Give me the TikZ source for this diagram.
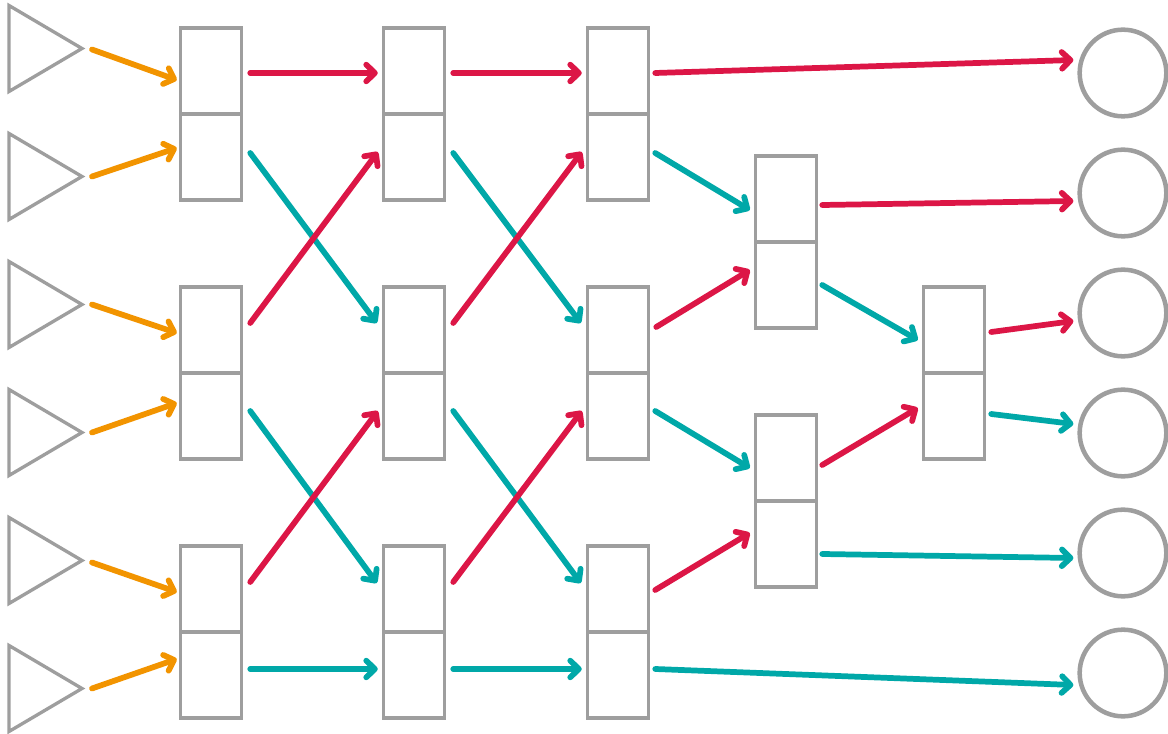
\documentclass[tikz,border=0pt]{standalone}
\usetikzlibrary{arrows.meta,calc}
\definecolor{wire}{RGB}{158,158,158}
\definecolor{feedc}{RGB}{242,148,0}
\definecolor{upc}{RGB}{220,22,70}
\definecolor{downc}{RGB}{0,168,168}
\begin{document}
\begin{tikzpicture}[x=0.75pt,y=-0.75pt,
  cell/.style={draw=wire,line width=2.6pt,minimum width=45.75pt,minimum height=64.5pt,inner sep=0pt},
  sink/.style={circle,draw=wire,line width=3.4pt,minimum size=65pt,inner sep=0pt},
  source/.style={draw=wire,line width=2.5pt,line join=miter},
  link/.style={line width=4.3pt,line cap=round,-{Straight Barb[round,length=6.5pt,width=12.5pt]}},
  feed/.style={link,feedc},
  upw/.style={link,upc},
  downw/.style={link,downc}]
\useasboundingbox (0,0) rectangle (1168,734);

% sources
\foreach \i/\y in {1/48.5,2/176.5,3/304.5,4/432.5,5/560.5,6/688.5}{
  \draw[source] (9,\y-43) -- (82,\y) -- (9,\y+43) -- cycle;
  \coordinate (t\i) at (82,\y);
}

% switching cells: column 1 to 3
\foreach \c/\x in {1/211,2/414,3/618}{
  \node[cell] (a1c\c) at (\x,71) {};
  \node[cell] (b1c\c) at (\x,157) {};
  \node[cell] (a2c\c) at (\x,330) {};
  \node[cell] (b2c\c) at (\x,416) {};
  \node[cell] (a3c\c) at (\x,589) {};
  \node[cell] (b3c\c) at (\x,675) {};
}
% column 4 and 5
\node[cell] (p1) at (786,199) {};
\node[cell] (q1) at (786,285) {};
\node[cell] (p2) at (786,458) {};
\node[cell] (q2) at (786,544) {};
\node[cell] (m1) at (954,330) {};
\node[cell] (n1) at (954,416) {};

% sinks
\foreach \i/\y in {1/73,2/193,3/313,4/433,5/553,6/673}{
  \node[sink] (o\i) at (1123,\y) {};
}

% inputs
\draw[feed] ($(t1)+(10,1)$) -- ($(a1c1.west)+(-2,9)$);
\draw[feed] ($(t2)+(10,0)$) -- ($(b1c1.west)+(-2,-9)$);
\draw[feed] ($(t3)+(10,0)$) -- ($(a2c1.west)+(-2,3)$);
\draw[feed] ($(t4)+(10,0)$) -- ($(b2c1.west)+(-2,-13)$);
\draw[feed] ($(t5)+(10,2)$) -- ($(a3c1.west)+(-2,3)$);
\draw[feed] ($(t6)+(10,0)$) -- ($(b3c1.west)+(-2,-16)$);

% butterfly stages
\foreach \s/\d in {1/2,2/3}{
  \draw[upw]   ($(a1c\s.east)+(7,2)$)  -- ($(a1c\d.west)+(-4,2)$);
  \draw[downw] ($(b1c\s.east)+(7,-4)$) -- ($(a2c\d.west)+(-5,-7)$);
  \draw[upw]   ($(a2c\s.east)+(7,-7)$) -- ($(b1c\d.west)+(-4,-5)$);
  \draw[downw] ($(b2c\s.east)+(7,-5)$) -- ($(a3c\d.west)+(-5,-6)$);
  \draw[upw]   ($(a3c\s.east)+(7,-7)$) -- ($(b2c\d.west)+(-4,-5)$);
  \draw[downw] ($(b3c\s.east)+(7,-6)$) -- ($(b3c\d.west)+(-4,-6)$);
}

% column 3 outputs
\draw[upw]   ($(a1c3.east)+(5,2)$)  -- ($(o1.west)+(-4,-13)$);
\draw[downw] ($(b1c3.east)+(5,-4)$) -- ($(p1.west)+(-4,11)$);
\draw[upw]   ($(a2c3.east)+(6,-3)$) -- ($(q1.west)+(-4,-15)$);
\draw[downw] ($(b2c3.east)+(5,-5)$) -- ($(p2.west)+(-4,10)$);
\draw[upw]   ($(a3c3.east)+(5,1)$)  -- ($(q2.west)+(-4,-11)$);
\draw[downw] ($(b3c3.east)+(5,-6)$) -- ($(o6.west)+(-4,12)$);

% column 4 outputs
\draw[upw]   ($(p1.east)+(4,6)$)  -- ($(o2.west)+(-4,8)$);
\draw[downw] ($(q1.east)+(4,0)$)  -- ($(m1.west)+(-4,10)$);
\draw[upw]   ($(p2.east)+(4,7)$)  -- ($(n1.west)+(-4,-8)$);
\draw[downw] ($(q2.east)+(4,10)$) -- ($(o5.west)+(-4,5)$);

% column 5 outputs
\draw[upw]   ($(m1.east)+(5,2)$)  -- ($(o3.west)+(-4,8)$);
\draw[downw] ($(n1.east)+(5,-2)$) -- ($(o4.west)+(-4,-9)$);
\end{tikzpicture}
\end{document}
